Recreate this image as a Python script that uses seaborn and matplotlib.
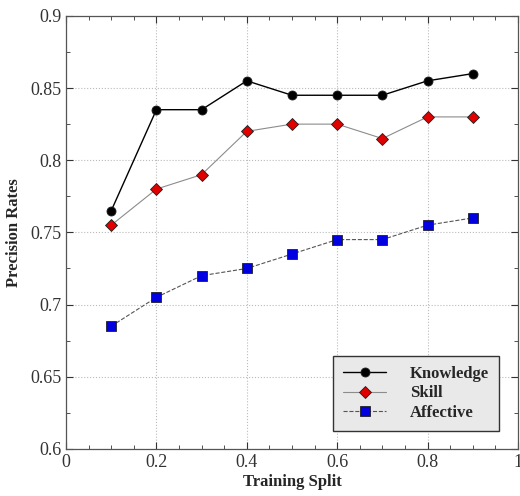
import pandas as pd
import numpy as np
import seaborn as sns
import matplotlib.pyplot as plt
from matplotlib.ticker import MultipleLocator, FuncFormatter

# data
splits = [0.1, 0.2, 0.3, 0.4, 0.5, 0.6, 0.7, 0.8, 0.9]
knowledge = [0.765, 0.835, 0.835, 0.855, 0.845, 0.845, 0.845, 0.855, 0.86]
skill = [0.755, 0.78, 0.79, 0.82, 0.825, 0.825, 0.815, 0.83, 0.83]
affective = [0.685, 0.705, 0.72, 0.725, 0.735, 0.745, 0.745, 0.755, 0.76]
series_names = ["Knowledge", "Skill", "Affective"]

df = pd.DataFrame({
    "Training Split": splits * 3,
    "Precision Rates": knowledge + skill + affective,
    "kind": np.repeat(series_names, len(splits)),
})

sns.set_style("ticks")
plt.rcParams["font.family"] = ["Liberation Serif", "DejaVu Serif"]

fig = plt.figure(figsize=(5.2, 4.96), dpi=100)
ax = fig.add_axes([0.127, 0.095, 0.869, 0.873])

styles = {
    "Knowledge": dict(color="black", marker="o", mfc="black", ms=6.5, ls="-", lw=1.0),
    "Skill": dict(color="#8c8c8c", marker="D", mfc="#e00000", ms=6.5, ls="-", lw=0.8),
    "Affective": dict(color="#555555", marker="s", mfc="#0000e0", ms=6.5, ls="--", lw=0.8),
}
for name in series_names:
    st = styles[name]
    sns.lineplot(data=df[df["kind"] == name], x="Training Split", y="Precision Rates",
                 ax=ax, color=st["color"], marker=st["marker"], markersize=st["ms"],
                 markerfacecolor=st["mfc"], markeredgecolor="#202020", markeredgewidth=0.6,
                 linestyle=st["ls"], linewidth=st["lw"], label=name)

ax.set_xlim(0, 1)
ax.set_ylim(0.6, 0.9)
ax.xaxis.set_major_locator(MultipleLocator(0.2))
ax.xaxis.set_minor_locator(MultipleLocator(0.05))
ax.yaxis.set_major_locator(MultipleLocator(0.05))
ax.yaxis.set_minor_locator(MultipleLocator(0.025))
fmt = FuncFormatter(lambda v, pos: f"{round(v, 3):g}")
ax.xaxis.set_major_formatter(fmt)
ax.yaxis.set_major_formatter(fmt)
ax.tick_params(which="both", direction="in", top=True, right=True, labelsize=13,
               colors="#333333", labelcolor="#333333")
ax.tick_params(which="major", length=5)
ax.tick_params(which="minor", length=3)
ax.grid(True, which="major", color="#bbbbbb", linestyle=":", linewidth=0.8)
for sp in ax.spines.values():
    sp.set_color("#555555")
    sp.set_linewidth(0.9)

ax.set_xlabel("Training Split", fontsize=12, fontweight="bold", labelpad=2)
ax.set_ylabel("Precision Rates", fontsize=12, fontweight="bold", labelpad=6)

leg = ax.legend(loc="lower right", bbox_to_anchor=(0.958, 0.042),
                prop={"weight": "bold", "size": 12}, frameon=True, fancybox=False,
                handlelength=2.6, borderpad=0.6, labelspacing=0.2, handletextpad=1.4,
                borderaxespad=0)
leg.get_frame().set_facecolor("#e9e9e9")
leg.get_frame().set_edgecolor("#333333")
leg.get_frame().set_alpha(1)

fig.savefig("out.png", dpi=100)
